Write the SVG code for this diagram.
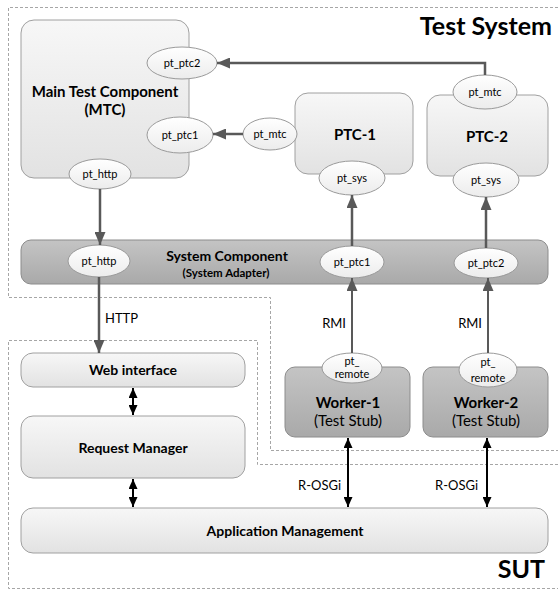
<svg xmlns="http://www.w3.org/2000/svg" width="558" height="589" viewBox="0 0 558 589">
<defs>
<linearGradient id="gLight" x1="0" y1="0" x2="0" y2="1"><stop offset="0" stop-color="#f7f7f7"/><stop offset="1" stop-color="#e2e2e2"/></linearGradient>
<linearGradient id="gDark" x1="0" y1="0" x2="0" y2="1"><stop offset="0" stop-color="#c4c4c4"/><stop offset="1" stop-color="#a9a9a9"/></linearGradient>
<linearGradient id="gEll" x1="0" y1="0" x2="0" y2="1"><stop offset="0" stop-color="#ffffff"/><stop offset="1" stop-color="#ececec"/></linearGradient>
<marker id="ag" viewBox="0 0 13 11" refX="13" refY="5.5" markerWidth="13" markerHeight="11" markerUnits="userSpaceOnUse" orient="auto"><path d="M0,0 L13,5.5 L0,11 z" fill="#595959"/></marker>
<marker id="ab" viewBox="0 0 10 9" refX="10" refY="4.5" markerWidth="10" markerHeight="9" markerUnits="userSpaceOnUse" orient="auto-start-reverse"><path d="M0,0 L10,4.5 L0,9 z" fill="#000"/></marker>
</defs>
<style>
.bnd{fill:none;stroke:#a6a6a6;stroke-width:1;stroke-dasharray:3,2}
.lbox{fill:url(#gLight);stroke:#a0a0a0;stroke-width:1}
.dbox{fill:url(#gDark);stroke:#8c8c8c;stroke-width:1}
.ell{fill:url(#gEll);stroke:#9a9a9a;stroke-width:1}
text{font-family:Lato,"Open Sans","Liberation Sans",sans-serif;fill:#000}
.t{font-size:15px;font-weight:bold;text-anchor:middle}
.s{font-size:11px;text-anchor:middle}
.big{font-size:25px;font-weight:bold;text-anchor:end}
.lbl{font-size:13px}
.ga{fill:none;stroke:#595959;stroke-width:2.5}
.ba{fill:none;stroke:#000;stroke-width:2}
</style>
<g id="boundaries">
<path class="bnd" d="M558 7.5 H8.5 V297.5 H270.5 V450.5 H558"/>
<path class="bnd" d="M558 464.5 H257.5 V340.5 H8.5 V588.5 H558"/>
<text class="big" x="552" y="35">Test System</text>
<text class="big" x="545" y="578">SUT</text>
</g>
<g id="mtc">
<rect class="lbox" x="21" y="20" width="168" height="158" rx="13"/>
<text class="t" x="105" y="97">Main Test Component</text>
<text class="t" x="105" y="115">(MTC)</text>
</g>
<g id="ptc1">
<rect class="lbox" x="295" y="93" width="118" height="81" rx="13"/>
<text class="t" x="355" y="140">PTC-1</text>
</g>
<g id="ptc2">
<rect class="lbox" x="427" y="95" width="121" height="81" rx="13"/>
<text class="t" x="487" y="142">PTC-2</text>
</g>
<g id="sc">
<rect class="dbox" x="21" y="240" width="527" height="44" rx="10"/>
<text class="t" x="227" y="261" style="font-size:14px">System Component</text>
<text class="s" x="226" y="277" style="font-size:11.5px;font-weight:bold">(System Adapter)</text>
</g>
<g id="web">
<rect class="lbox" x="21" y="353" width="224" height="34" rx="12"/>
<text class="t" x="133" y="375" style="font-size:14px">Web interface</text>
</g>
<g id="rm">
<rect class="lbox" x="21" y="416" width="224" height="62" rx="12"/>
<text class="t" x="133" y="453" style="font-size:14px">Request Manager</text>
</g>
<g id="app">
<rect class="lbox" x="21" y="508" width="527" height="45" rx="12"/>
<text class="t" x="285" y="536" style="font-size:14px">Application Management</text>
</g>
<g id="worker1">
<rect class="dbox" x="285" y="367" width="125" height="70" rx="10"/>
<text class="t" x="348" y="408">Worker-1</text>
<text class="t" x="348" y="426" style="font-weight:normal">(Test Stub)</text>
</g>
<g id="worker2">
<rect class="dbox" x="423" y="367" width="125" height="70" rx="10"/>
<text class="t" x="486" y="408">Worker-2</text>
<text class="t" x="486" y="426" style="font-weight:normal">(Test Stub)</text>
</g>
<g id="ports">
<g id="mtc_pt_ptc2"><ellipse class="ell" cx="182" cy="63" rx="35" ry="16"/><text class="s" x="182" y="67">pt_ptc2</text></g>
<g id="mtc_pt_ptc1"><ellipse class="ell" cx="180" cy="135" rx="33" ry="18"/><text class="s" x="180" y="139">pt_ptc1</text></g>
<g id="mtc_pt_http"><ellipse class="ell" cx="100" cy="174" rx="31" ry="15"/><text class="s" x="100" y="178">pt_http</text></g>
<g id="ptc1_pt_mtc"><ellipse class="ell" cx="270" cy="134" rx="27" ry="16"/><text class="s" x="270" y="138">pt_mtc</text></g>
<g id="ptc1_pt_sys"><ellipse class="ell" cx="352" cy="178" rx="33" ry="17"/><text class="s" x="352" y="182">pt_sys</text></g>
<g id="ptc2_pt_mtc"><ellipse class="ell" cx="485" cy="92" rx="32" ry="17"/><text class="s" x="485" y="96">pt_mtc</text></g>
<g id="ptc2_pt_sys"><ellipse class="ell" cx="486" cy="180" rx="33" ry="17"/><text class="s" x="486" y="184">pt_sys</text></g>
<g id="sc_pt_http"><ellipse class="ell" cx="99" cy="261" rx="31" ry="16"/><text class="s" x="99" y="265">pt_http</text></g>
<g id="sc_pt_ptc1"><ellipse class="ell" cx="352" cy="262" rx="32" ry="16"/><text class="s" x="352" y="266">pt_ptc1</text></g>
<g id="sc_pt_ptc2"><ellipse class="ell" cx="486" cy="263" rx="32" ry="15"/><text class="s" x="486" y="267">pt_ptc2</text></g>
<g id="w1_pt_remote"><ellipse class="ell" cx="352" cy="368" rx="30" ry="15"/><text class="s" x="352" y="365">pt_</text><text class="s" x="352" y="378">remote</text></g>
<g id="w2_pt_remote"><ellipse class="ell" cx="488" cy="370" rx="29" ry="17"/><text class="s" x="488" y="366">pt_</text><text class="s" x="488" y="382">remote</text></g>
</g>
<g id="connectors">
<path class="ga" d="M485 75 V63 H217" marker-end="url(#ag)"/>
<path class="ga" d="M243 134 H213" marker-end="url(#ag)"/>
<path class="ga" d="M100 189 V245" marker-end="url(#ag)"/>
<path class="ga" d="M352 246 V195" marker-end="url(#ag)"/>
<path class="ga" d="M486 248 V197" marker-end="url(#ag)"/>
<path class="ga" d="M99 277 V353" marker-end="url(#ag)"/>
<path class="ga" d="M352 353 V278" marker-end="url(#ag)" style="stroke-width:2"/>
<path class="ga" d="M488 353 V278" marker-end="url(#ag)" style="stroke-width:2"/>
<path class="ba" d="M133 388 V415" marker-start="url(#ab)" marker-end="url(#ab)"/>
<path class="ba" d="M133 479 V507" marker-start="url(#ab)" marker-end="url(#ab)"/>
<path class="ba" d="M348 438 V507" marker-start="url(#ab)" marker-end="url(#ab)"/>
<path class="ba" d="M487 438 V507" marker-start="url(#ab)" marker-end="url(#ab)"/>
<text class="lbl" x="105" y="323">HTTP</text>
<text class="lbl" x="346" y="328" text-anchor="end">RMI</text>
<text class="lbl" x="482" y="328" text-anchor="end">RMI</text>
<text class="lbl" x="298" y="490">R-OSGi</text>
<text class="lbl" x="435" y="490">R-OSGi</text>
</g>
</svg>
